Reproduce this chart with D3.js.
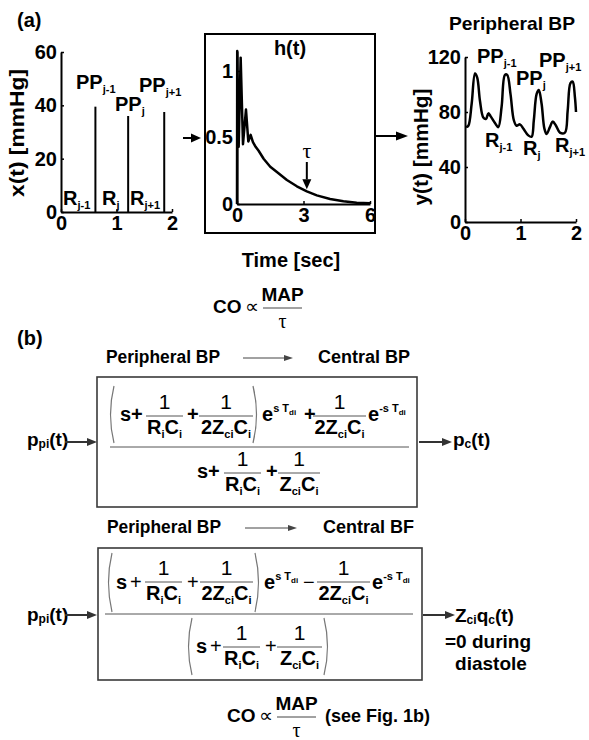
<!DOCTYPE html>
<html>
<head>
<meta charset="utf-8">
<script src="https://cdn.jsdelivr.net/npm/d3@7"></script>
<style>
body { margin: 0; background: #fff; }
svg { font-family: "Liberation Sans", Arial, sans-serif; font-weight: bold; }
</style>
</head>
<body>
<svg id="fig" width="589" height="740"></svg>
<script>
// input pulse train x(t)
let pulseT = [0.62, 1.21, 1.86];
let pulseH = [39.5, 36, 37.5];
let xXTicks = [0, 1, 2];
let xYTicks = [0, 20, 40, 60];

// impulse response h(t)
let hT = [0, 0.01, 0.075, 0.165, 0.27, 0.405, 0.51, 0.615, 0.72, 0.84, 0.975, 1.2, 1.5, 1.8, 2.25, 2.7, 3.15, 3.6, 4.2, 4.8, 5.4, 6.0];
let hV = [0, 1.15, 0.43, 1.10, 0.45, 0.71, 0.47, 0.52, 0.465, 0.43, 0.40, 0.34, 0.28, 0.24, 0.18, 0.133, 0.095, 0.065, 0.038, 0.02, 0.01, 0.005];
let hXTicks = [0, 3, 6];
let hYTicks = [0, 0.5, 1];
let tau = 3.15;

// peripheral BP y(t)
let yT = [0.02, 0.06, 0.12, 0.18, 0.22, 0.27, 0.33, 0.38, 0.42, 0.46, 0.54, 0.60, 0.66, 0.72, 0.76, 0.82, 0.88, 0.93, 0.99, 1.05, 1.14, 1.20, 1.24, 1.29, 1.33, 1.38, 1.43, 1.47, 1.53, 1.58, 1.64, 1.71, 1.80, 1.85, 1.90, 1.94, 1.98, 2.0];
let yV = [69, 70, 86, 108, 105, 88, 76, 75, 79, 77, 72, 69, 84, 107, 107, 93, 74, 70, 71, 68, 63, 62, 74, 93, 96, 86, 68, 64, 69, 73, 70, 65, 65, 81, 101, 102, 91, 80];
let yXTicks = [0, 1, 2];
let yYTicks = [0, 40, 80, 120];

const svg = d3.select("#fig");

// text with sub/superscripts; dy of each part is its offset from the baseline
function rich(g, x, y, parts, opt) {
  opt = opt || {};
  let t = g.append("text").attr("x", x).attr("y", y)
    .attr("font-size", opt.size || 19)
    .attr("text-anchor", opt.anchor || "start");
  if (opt.weight) t.attr("font-weight", opt.weight);
  if (opt.family) t.attr("font-family", opt.family);
  if (opt.rotate) t.attr("transform", `rotate(-90,${x},${y})`);
  if (opt.len) t.attr("textLength", opt.len).attr("lengthAdjust", "spacingAndGlyphs");
  let prev = 0;
  parts.forEach(p => {
    if (typeof p === "string") p = { t: p };
    let off = p.dy || 0;
    let s = t.append("tspan").text(p.t).attr("dy", off - prev);
    if (p.s) s.attr("font-size", p.s);
    if (p.w) s.attr("font-weight", p.w);
    if (p.f) s.attr("font-family", p.f);
    prev = off;
  });
  return t;
}

function arrow(g, x1, y1, x2, y2, o) {
  o = o || {};
  let hl = o.hl || 10, hw = o.hw || 4, col = o.col || "#000";
  let a = Math.atan2(y2 - y1, x2 - x1);
  let bx = x2 - hl * Math.cos(a), by = y2 - hl * Math.sin(a);
  g.append("line").attr("x1", x1).attr("y1", y1).attr("x2", bx).attr("y2", by)
    .attr("stroke", col).attr("stroke-width", o.w || 2);
  let px = -Math.sin(a) * hw, py = Math.cos(a) * hw;
  g.append("path").attr("d", `M${x2},${y2}L${bx + px},${by + py}L${bx - px},${by - py}Z`).attr("fill", col);
}

function axes(g, x, y, xt, yt, fs) {
  let ax = g.append("g").attr("transform", `translate(0,${y.range()[0]})`)
    .call(d3.axisBottom(x).tickValues(xt).tickFormat(String).tickSizeInner(-3).tickSizeOuter(0).tickPadding(4));
  let ay = g.append("g").attr("transform", `translate(${x.range()[0]},0)`)
    .call(d3.axisLeft(y).tickValues(yt).tickFormat(String).tickSizeInner(-3).tickSizeOuter(0).tickPadding(4));
  [ax, ay].forEach(a => {
    a.attr("font-family", null).attr("font-size", fs);
    a.select(".domain").attr("stroke-width", 2).attr("stroke", "#000");
    a.selectAll(".tick line").attr("stroke-width", 1.5);
    a.selectAll("text").attr("fill", "#000");
  });
}

// ---------- (a) ----------
const ga = svg.append("g");
rich(ga, 17, 27, ["(a)"], { size: 20 });

// panel 1: x(t)
let x1 = d3.scaleLinear().domain([0, 2]).range([61, 172]);
let y1 = d3.scaleLinear().domain([0, 60]).range([212, 52]);
axes(ga, x1, y1, xXTicks, xYTicks, 20);
ga.selectAll(".pulse").data(pulseT).join("line").attr("class", "pulse")
  .attr("x1", d => x1(d)).attr("x2", d => x1(d))
  .attr("y1", y1(0)).attr("y2", (d, i) => y1(pulseH[i]))
  .attr("stroke", "#000").attr("stroke-width", 2);
rich(ga, 24, 133, ["x(t) [mmHg]"], { size: 20, anchor: "middle", rotate: true, len: 128 });
const sub = (t, s) => ({ t: t, s: s || 11, dy: 4 });
rich(ga, 76, 89, ["PP", sub("j-1")], { size: 20 });
rich(ga, 115, 111, ["PP", sub("j")], { size: 20 });
rich(ga, 139, 92, ["PP", sub("j+1")], { size: 20 });
rich(ga, 63, 205, ["R", sub("j-1")], { size: 20 });
rich(ga, 102, 205, ["R", sub("j")], { size: 20 });
rich(ga, 130, 205, ["R", sub("j+1")], { size: 20 });

arrow(ga, 183, 138, 201, 138, { hl: 10, hw: 4.5 });

// panel 2: h(t)
ga.append("rect").attr("x", 205).attr("y", 34).attr("width", 170).attr("height", 199)
  .attr("fill", "none").attr("stroke", "#000").attr("stroke-width", 2);
let x2 = d3.scaleLinear().domain([0, 6]).range([237, 370]);
let y2 = d3.scaleLinear().domain([0, 1.15]).range([204, 51]);
axes(ga, x2, y2, hXTicks, hYTicks, 20);
ga.append("path").datum(d3.range(hT.length))
  .attr("d", d3.line().x(i => x2(hT[i])).y(i => y2(hV[i])))
  .attr("fill", "none").attr("stroke", "#000").attr("stroke-width", 2.5).attr("stroke-linejoin", "round");
rich(ga, 290, 55, ["h(t)"], { size: 20, anchor: "middle" });
rich(ga, x2(tau), 158, ["τ"], { size: 22, anchor: "middle", weight: "normal", family: "Liberation Serif, serif" });
arrow(ga, x2(tau), 162, x2(tau), y2(0.095) - 2, { hl: 10, hw: 4.5 });
rich(ga, 291, 267, ["Time [sec]"], { size: 20, anchor: "middle" });

arrow(ga, 375, 136, 408, 136, { hl: 12, hw: 4.5 });

// panel 3: y(t)
let x3 = d3.scaleLinear().domain([0, 2]).range([465, 576]);
let y3 = d3.scaleLinear().domain([0, 120]).range([222, 57]);
axes(ga, x3, y3, yXTicks, yYTicks, 20);
ga.append("path").datum(d3.range(yT.length))
  .attr("d", d3.line().x(i => x3(yT[i])).y(i => y3(yV[i])).curve(d3.curveCatmullRom))
  .attr("fill", "none").attr("stroke", "#000").attr("stroke-width", 2.5);
rich(ga, 512, 30, ["Peripheral BP"], { size: 19, anchor: "middle", len: 126 });
rich(ga, 428, 147, ["y(t) [mmHg]"], { size: 20, anchor: "middle", rotate: true, len: 117 });
rich(ga, 477, 63, ["PP", sub("j-1")], { size: 20 });
rich(ga, 516, 85, ["PP", sub("j")], { size: 20 });
rich(ga, 539, 67, ["PP", sub("j+1")], { size: 20 });
rich(ga, 485, 147, ["R", sub("j-1")], { size: 20 });
rich(ga, 523, 155, ["R", sub("j")], { size: 20 });
rich(ga, 555, 152, ["R", sub("j+1")], { size: 20 });

// CO proportional to MAP / tau
function coFormula(g, x, base, extra) {
  rich(g, x, base, ["CO"], { size: 19 });
  rich(g, x + 32, base, ["∝"], { size: 19, weight: "normal", family: "DejaVu Sans, sans-serif", len: 14 });
  let l = x + 50, r = x + 89;
  g.append("line").attr("x1", l).attr("x2", r).attr("y1", base - 5).attr("y2", base - 5)
    .attr("stroke", "#444").attr("stroke-width", 1);
  rich(g, (l + r) / 2, base - 12, ["MAP"], { size: 19, anchor: "middle" });
  rich(g, (l + r) / 2, base + 15, ["τ"], { size: 20, anchor: "middle", weight: "normal", family: "Liberation Serif, serif" });
  if (extra) rich(g, r + 9, base, [extra], { size: 18 });
}
coFormula(ga, 213, 313);

// ---------- (b) ----------
const gb = svg.append("g");
rich(gb, 17, 345, ["(b)"], { size: 20 });

const RC = ["R", { t: "i", s: 11, dy: 4 }, { t: "C", dy: 0 }, { t: "i", s: 11, dy: 4 }];
const ZC2 = ["2Z", { t: "ci", s: 11, dy: 4 }, { t: "C", dy: 0 }, { t: "i", s: 11, dy: 4 }];
const ZC = ["Z", { t: "ci", s: 11, dy: 4 }, { t: "C", dy: 0 }, { t: "i", s: 11, dy: 4 }];
const EXP = ["e", { t: "s T", s: 11, dy: -9 }, { t: "di", s: 8, dy: -6 }];
const EXPN = ["e", { t: "-s T", s: 11, dy: -9 }, { t: "di", s: 8, dy: -6 }];
const ONE = [{ t: "1", w: "normal", s: 21 }];

function frac(g, l, r, F, num, den) {
  g.append("line").attr("x1", l).attr("x2", r).attr("y1", F).attr("y2", F)
    .attr("stroke", "#555").attr("stroke-width", 1);
  rich(g, (l + r) / 2, F - 7, num, { anchor: "middle" });
  rich(g, (l + r) / 2, F + 18, den, { anchor: "middle", size: 20 });
}
function paren(g, x, t, b, right) {
  let k = right ? -1 : 1;
  g.append("path").attr("d", `M${x + 4 * k},${t}Q${x - 3 * k},${(t + b) / 2} ${x + 4 * k},${b}`)
    .attr("fill", "none").attr("stroke", "#777").attr("stroke-width", 1.2);
}
function header(g, base, left, right, ax1, ax2, rx) {
  rich(g, left, base, ["Peripheral BP"], { size: 18, len: 114 });
  arrow(g, ax1, base - 5, ax2, base - 5, { hl: 9, hw: 3, w: 1, col: "#444" });
  rich(g, rx, base, [right], { size: 18 });
}
function box(g, x, y, w, h) {
  g.append("rect").attr("x", x).attr("y", y).attr("width", w).attr("height", h)
    .attr("fill", "none").attr("stroke", "#3a3a3a").attr("stroke-width", 1.6);
}
const PPI = ["p", { t: "pi", s: 12, dy: 2 }, { t: "(t)", dy: 0 }];

// transfer function to central BP
header(gb, 363, 106, "Central BP", 243, 293, 318);
box(gb, 97, 377, 320, 130);
paren(gb, 110, 386, 443);
rich(gb, 120, 421, ["s+"], { size: 20 });
frac(gb, 146, 183, 416, ONE, RC);
rich(gb, 187, 421, ["+"], { size: 20 });
frac(gb, 199, 253, 416, ONE, ZC2);
paren(gb, 257, 386, 443, true);
rich(gb, 262, 421, EXP, { size: 20 });
rich(gb, 304, 421, ["+"], { size: 20 });
frac(gb, 313, 366, 416, ONE, ZC2);
rich(gb, 368, 421, EXPN, { size: 20 });
gb.append("line").attr("x1", 110).attr("x2", 409).attr("y1", 447).attr("y2", 447)
  .attr("stroke", "#555").attr("stroke-width", 1);
rich(gb, 197, 478, ["s+"], { size: 20 });
frac(gb, 224, 261, 473, ONE, RC);
rich(gb, 266, 478, ["+"], { size: 20 });
frac(gb, 278, 320, 473, ONE, ZC);
rich(gb, 27, 446, PPI);
arrow(gb, 65, 442, 97, 442, { hl: 10, hw: 4, col: "#333" });
arrow(gb, 419, 442, 452, 442, { hl: 10, hw: 4, col: "#333" });
rich(gb, 453, 446, ["p", { t: "c", s: 12, dy: 2 }, { t: "(t)", dy: 0 }]);

// transfer function to central BF
header(gb, 533, 107, "Central BF", 245, 297, 323);
box(gb, 98, 548, 324, 132);
paren(gb, 108, 553, 612);
rich(gb, 116, 589, ["s"], { size: 20 });
rich(gb, 130, 589, ["+"], { weight: "normal", size: 20 });
frac(gb, 145, 182, 582, ONE, RC);
rich(gb, 187, 589, ["+"], { weight: "normal", size: 20 });
frac(gb, 200, 253, 582, ONE, ZC2);
paren(gb, 259, 553, 612, true);
rich(gb, 264, 589, EXP, { size: 20 });
rich(gb, 303, 589, ["−"], { weight: "normal", size: 20 });
frac(gb, 317, 370, 582, ONE, ZC2);
rich(gb, 372, 589, EXPN, { size: 20 });
gb.append("line").attr("x1", 105).attr("x2", 413).attr("y1", 614).attr("y2", 614)
  .attr("stroke", "#555").attr("stroke-width", 1);
paren(gb, 188, 618, 675);
rich(gb, 196, 653, ["s"], { size: 20 });
rich(gb, 210, 653, ["+"], { weight: "normal", size: 20 });
frac(gb, 223, 260, 647, ONE, RC);
rich(gb, 265, 653, ["+"], { weight: "normal", size: 20 });
frac(gb, 277, 322, 647, ONE, ZC);
paren(gb, 328, 618, 675, true);
rich(gb, 27, 621, PPI);
arrow(gb, 65, 615, 97, 615, { hl: 10, hw: 4, col: "#333" });
arrow(gb, 423, 615, 455, 615, { hl: 10, hw: 4, col: "#333" });
rich(gb, 455, 622, ["Z", { t: "ci", s: 12, dy: 2 }, { t: "q", dy: 0 }, { t: "c", s: 12, dy: 2 }, { t: "(t)", dy: 0 }]);
rich(gb, 445, 648, ["=0 during"]);
rich(gb, 491, 670, ["diastole"], { anchor: "middle" });

coFormula(gb, 227, 722, "(see Fig. 1b)");
</script>
</body>
</html>
